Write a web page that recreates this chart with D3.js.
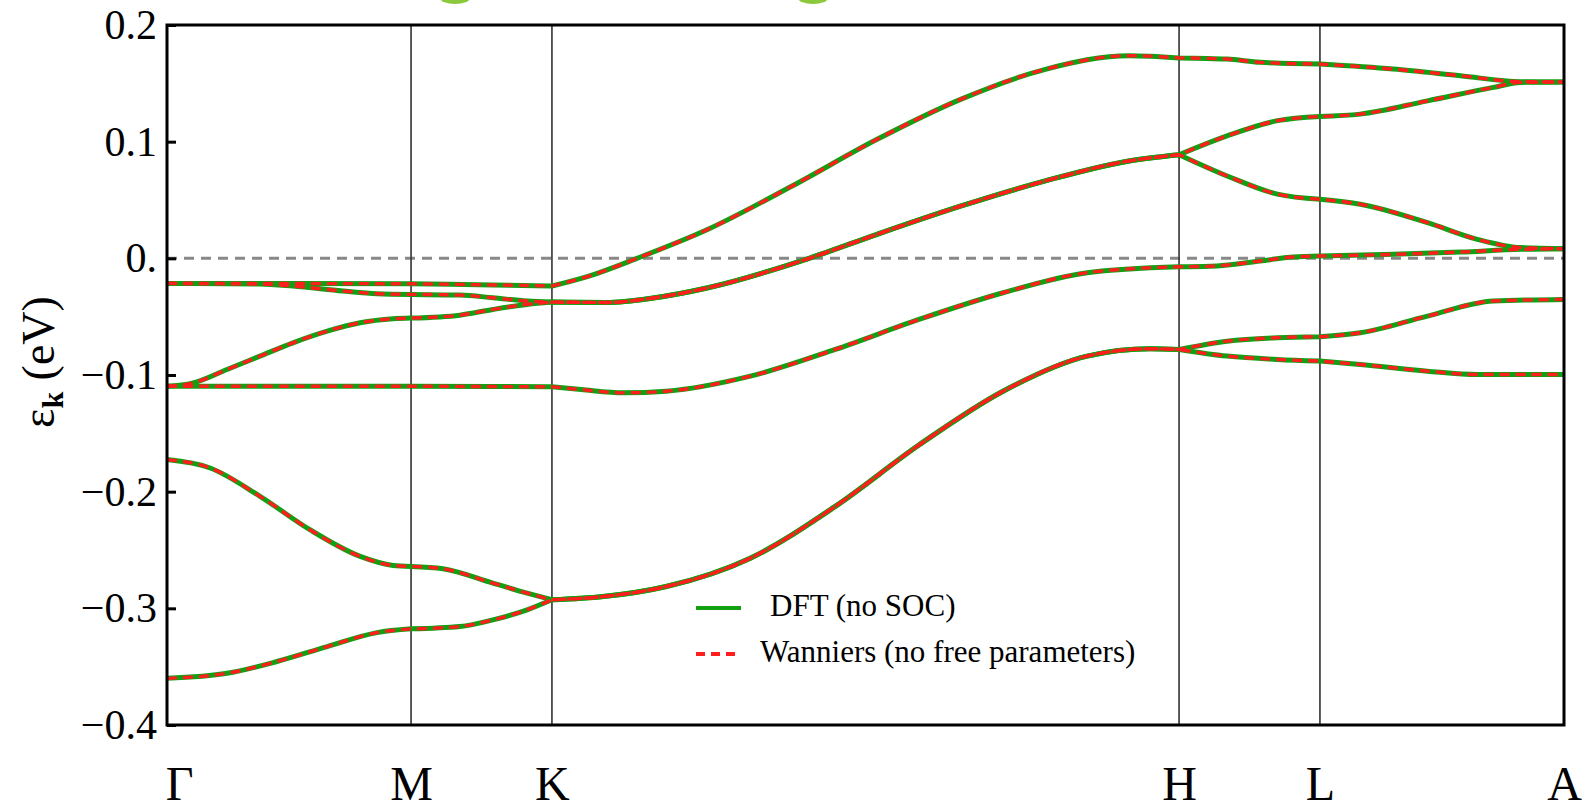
<!DOCTYPE html>
<html>
<head>
<meta charset="utf-8">
<script src="https://cdn.jsdelivr.net/npm/d3@7"></script>
<style>
  html, body { margin: 0; padding: 0; background: #fff; }
  text { font-family: "Liberation Serif", "Times New Roman", serif; }
</style>
</head>
<body>
<div id="chart"></div>
<script>
// high symmetry points along the path (path length units)
var kTicks = [0, 0.5774, 0.9107, 2.3944, 2.7277, 3.3051];
var kLabels = ["Γ", "M", "K", "H", "L", "A"];
var yTicks = [0.2, 0.1, 0, -0.1, -0.2, -0.3, -0.4];

// bands: [k, energy in eV]
var band1 = [[0, -0.0215], [0.3, -0.0216], [0.5774, -0.0218], [0.77, -0.0228], [0.9107, -0.0237],
  [1.0, -0.0150], [1.112, 0.0], [1.28, 0.0249], [1.479, 0.062], [1.68, 0.102], [1.879, 0.1365],
  [2.078, 0.162], [2.276, 0.1737], [2.3944, 0.1718], [2.508, 0.1708], [2.586, 0.168], [2.7277, 0.1665],
  [2.901, 0.1622], [3.06, 0.1565], [3.202, 0.1514], [3.3051, 0.1512]];
var band2 = [[0, -0.0215], [0.22, -0.022], [0.298, -0.0238], [0.416, -0.028], [0.497, -0.0303],
  [0.5774, -0.0309], [0.693, -0.0315], [0.771, -0.0338], [0.852, -0.0366], [0.9107, -0.0375],
  [1.04, -0.0378], [1.15, -0.034], [1.28, -0.0252], [1.519, 0.0], [1.68, 0.0206], [1.879, 0.0449],
  [2.078, 0.0664], [2.276, 0.0835], [2.3944, 0.0888], [2.508, 0.105], [2.627, 0.118], [2.7277, 0.1216],
  [2.823, 0.1236], [2.982, 0.135], [3.138, 0.1465], [3.202, 0.1508], [3.3051, 0.1512]];
var band3 = [[0, -0.1096], [0.06, -0.107], [0.142, -0.0953], [0.22, -0.0838], [0.298, -0.0724],
  [0.379, -0.0624], [0.457, -0.0552], [0.535, -0.0518], [0.5774, -0.0512], [0.693, -0.0487],
  [0.771, -0.0438], [0.852, -0.0395], [0.9107, -0.0375],
  [1.04, -0.0378], [1.15, -0.034], [1.28, -0.0252], [1.519, 0.0], [1.68, 0.0206], [1.879, 0.0449],
  [2.078, 0.0664], [2.276, 0.0835], [2.3944, 0.0888], [2.508, 0.0706], [2.627, 0.055], [2.7277, 0.0506],
  [2.823, 0.0464], [2.982, 0.0306], [3.1, 0.0163], [3.202, 0.0092], [3.3051, 0.0083]];
var band4 = [[0, -0.1096], [0.5774, -0.1096], [0.77, -0.1099], [0.9107, -0.1101], [0.98, -0.1125],
  [1.081, -0.1153], [1.181, -0.1139], [1.38, -0.101], [1.581, -0.0781], [1.779, -0.0524],
  [1.978, -0.0295], [2.177, -0.0123], [2.3944, -0.0072], [2.468, -0.0068], [2.586, -0.0023],
  [2.664, 0.0012], [2.7277, 0.002], [2.901, 0.0034], [3.06, 0.0054], [3.202, 0.0077], [3.3051, 0.0083]];
var band5 = [[0, -0.1725], [0.102, -0.1797], [0.22, -0.204], [0.338, -0.2326], [0.457, -0.2555],
  [0.535, -0.2632], [0.5774, -0.2641], [0.653, -0.2661], [0.771, -0.2784], [0.852, -0.287], [0.9107, -0.2927],
  [1.032, -0.2899], [1.181, -0.2813], [1.38, -0.2570], [1.581, -0.2126], [1.779, -0.160], [1.978, -0.1139],
  [2.177, -0.0838], [2.326, -0.0775], [2.3944, -0.0781], [2.508, -0.071], [2.627, -0.068], [2.7277, -0.0672],
  [2.823, -0.0638], [2.982, -0.0495], [3.138, -0.0366], [3.3051, -0.0352]];
var band6 = [[0, -0.36], [0.142, -0.3557], [0.26, -0.3456], [0.379, -0.3328], [0.497, -0.3208],
  [0.5774, -0.3176], [0.693, -0.3156], [0.771, -0.3099], [0.852, -0.3013], [0.9107, -0.2927],
  [1.032, -0.2899], [1.181, -0.2813], [1.38, -0.2570], [1.581, -0.2126], [1.779, -0.160], [1.978, -0.1139],
  [2.177, -0.0838], [2.326, -0.0775], [2.3944, -0.0781], [2.508, -0.0838], [2.627, -0.0867], [2.7277, -0.0881],
  [2.823, -0.091], [2.982, -0.0967], [3.1, -0.0996], [3.3051, -0.0996]];
var bands = [band1, band2, band3, band4, band5, band6];

var legendLabels = ["DFT (no SOC)", "Wanniers (no free parameters)"];

drawBands();

function drawBands() {
    var width = 1587;
    var height = 804;
    var plotLeft = 167, plotRight = 1564, plotTop = 25, plotBottom = 725;
    var green = "#12a012";
    var red = "#ff1e1e";

    var svg = d3.select('#chart')
        .append('svg')
        .attr('width', width)
        .attr('height', height);

    var x = d3.scaleLinear().domain([0, 3.3051]).range([plotLeft, plotRight]);
    var y = d3.scaleLinear().domain([-0.4, 0.2]).range([plotBottom, plotTop]);

    // small green blobs cut off at the top edge
    svg.selectAll('ellipse.blob')
        .data([455, 813])
        .enter()
        .append('ellipse')
        .attr('cx', d => d)
        .attr('cy', -2)
        .attr('rx', 15)
        .attr('ry', 6)
        .attr('fill', '#8cc83c');

    // zero line
    svg.append('line')
        .attr('x1', plotLeft).attr('x2', plotRight)
        .attr('y1', y(0)).attr('y2', y(0))
        .attr('stroke', '#888')
        .attr('stroke-width', 3)
        .attr('stroke-dasharray', '10,7');

    // vertical lines at the inner points
    svg.selectAll('line.kline')
        .data(kTicks.slice(1, -1))
        .enter()
        .append('line')
        .attr('class', 'kline')
        .attr('x1', d => x(d)).attr('x2', d => x(d))
        .attr('y1', plotTop).attr('y2', plotBottom)
        .attr('stroke', '#333')
        .attr('stroke-width', 1.6);

    // each band is split at the high symmetry points so the kinks stay sharp
    var line = d3.line()
        .x(d => x(d[0]))
        .y(d => y(d[1]))
        .curve(d3.curveMonotoneX);

    function bandPath(pts) {
        var out = "";
        for (var i = 0; i < kTicks.length - 1; i++) {
            var seg = pts.filter(p => p[0] >= kTicks[i] - 1e-6 && p[0] <= kTicks[i + 1] + 1e-6);
            if (seg.length < 2) continue;
            var s = line(seg);
            if (out !== "") s = "L" + s.slice(1);
            out += s;
        }
        return out;
    }

    svg.selectAll('path.dft')
        .data(bands)
        .enter()
        .append('path')
        .attr('class', 'dft')
        .attr('d', bandPath)
        .attr('fill', 'none')
        .attr('stroke', green)
        .attr('stroke-width', 5);

    svg.selectAll('path.wan')
        .data(bands)
        .enter()
        .append('path')
        .attr('class', 'wan')
        .attr('d', bandPath)
        .attr('fill', 'none')
        .attr('stroke', red)
        .attr('stroke-width', 3.4)
        .attr('stroke-dasharray', '10,6');

    // frame
    svg.append('rect')
        .attr('x', plotLeft).attr('y', plotTop)
        .attr('width', plotRight - plotLeft).attr('height', plotBottom - plotTop)
        .attr('fill', 'none')
        .attr('stroke', '#000')
        .attr('stroke-width', 3);

    // y axis
    var yaxis = d3.axisLeft(y)
        .tickValues(yTicks)
        .tickSize(-9)
        .tickPadding(10)
        .tickFormat(d => d === 0 ? "0." : d3.format(".1f")(d).replace("-", "\u2212"));

    var gy = svg.append('g')
        .attr('transform', 'translate(' + plotLeft + ',0)')
        .call(yaxis);
    gy.select('.domain').remove();
    gy.selectAll('.tick line').attr('stroke', '#000').attr('stroke-width', 3);
    gy.selectAll('.tick text')
        .attr('font-family', '"Liberation Serif", serif')
        .attr('font-size', 42)
        .attr('fill', '#000');

    // x axis labels
    var xaxis = d3.axisBottom(x)
        .tickValues(kTicks)
        .tickSize(0)
        .tickPadding(41)
        .tickFormat((d, i) => kLabels[i]);

    var gx = svg.append('g')
        .attr('transform', 'translate(0,' + plotBottom + ')')
        .call(xaxis);
    gx.select('.domain').remove();
    gx.selectAll('.tick text')
        .attr('font-family', '"Liberation Serif", serif')
        .attr('font-size', 48)
        .attr('fill', '#000')
        .attr('dx', (d, i) => i === 0 ? 12 : 0);

    // y label
    var ylab = svg.append('text')
        .attr('transform', 'translate(54,362) rotate(-90)')
        .attr('text-anchor', 'middle')
        .attr('font-size', 46)
        .attr('fill', '#000');
    ylab.append('tspan').text('ε');
    ylab.append('tspan').text('k').attr('font-weight', 'bold').attr('font-size', 30).attr('dy', 9);
    ylab.append('tspan').text(' (eV)').attr('dy', -9);

    // legend
    var legend = svg.append('g');
    legend.append('line')
        .attr('x1', 696).attr('x2', 741)
        .attr('y1', 608).attr('y2', 608)
        .attr('stroke', green).attr('stroke-width', 4);
    legend.append('line')
        .attr('x1', 696).attr('x2', 741)
        .attr('y1', 654).attr('y2', 654)
        .attr('stroke', red).attr('stroke-width', 4)
        .attr('stroke-dasharray', '9,6');
    legend.selectAll('text')
        .data(legendLabels)
        .enter()
        .append('text')
        .attr('x', (d, i) => i === 0 ? 770 : 760)
        .attr('y', (d, i) => i === 0 ? 616 : 662)
        .attr('font-size', 31)
        .attr('fill', '#000')
        .text(d => d);
}
</script>
</body>
</html>
